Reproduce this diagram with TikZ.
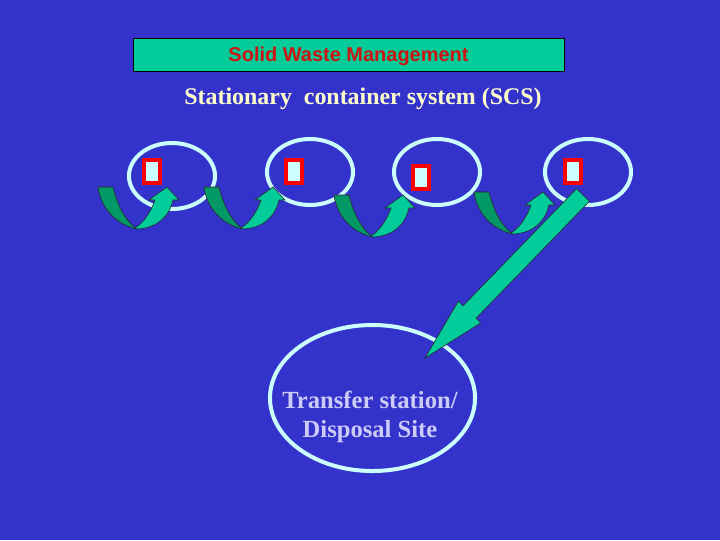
\documentclass[tikz,border=0pt]{standalone}
\usepackage{fontspec}
\setmainfont{Liberation Serif}
\newfontfamily\arialfont{Liberation Sans}
\usepackage{tikz}
\usetikzlibrary{calc,positioning,shapes.geometric}
\definecolor{slideblue}{RGB}{51,51,204}
\definecolor{paleaqua}{RGB}{204,255,255}
\definecolor{seagreen}{RGB}{0,204,153}
\definecolor{deepgreen}{RGB}{0,153,102}
\definecolor{titlered}{RGB}{204,20,20}
\definecolor{paleyellow}{RGB}{255,255,204}
\definecolor{lavender}{RGB}{204,204,250}

\begin{document}
\begin{tikzpicture}[x=0.025cm,y=-0.025cm,
    site/.style={ellipse,draw=paleaqua,line width=0.1cm,minimum width=2.15cm,minimum height=1.65cm,inner sep=0pt},
    bin/.style={rectangle,draw=red,fill=paleaqua,line width=0.1cm,minimum width=0.4cm,minimum height=0.575cm,inner sep=0pt},
    titlebox/.style={rectangle,draw=black,fill=seagreen,line width=0.5pt,minimum width=10.775cm,minimum height=0.825cm,inner sep=0pt,
        text height=10pt,text depth=0pt,text=titlered,font=\arialfont\bfseries\fontsize{14.2}{16}\selectfont},
    dest/.style={ellipse,draw=paleaqua,line width=0.1cm,minimum width=5.125cm,minimum height=3.65cm,inner sep=0pt},
    arrowpart/.style={draw=black!85,line width=0.4pt},
    pics/uturn/.style={code={
        \filldraw[arrowpart,fill=deepgreen] (-39,-42) -- (-24,-42) .. controls (-20,-25) and (-12,-8) .. (0,0)
            .. controls (-20,-4) and (-36,-20) .. (-39,-42) -- cycle;
        \filldraw[arrowpart,fill=seagreen] (0,0) .. controls (20,-1) and (32,-12) .. (36,-29) -- (42,-29) -- (30,-42)
            -- (12,-29) -- (18,-29) .. controls (15,-20) and (8,-7) .. (-2,-1) -- cycle;
    }}]
    \useasboundingbox (0,0) rectangle (720,540);
    \fill[slideblue] (0,0) rectangle (720,540);
    % headings
    \node[titlebox] (title) at (348.5,54.5) {Solid Waste Management};
    \node[anchor=base,text=paleyellow,font=\bfseries\fontsize{17}{20}\selectfont] (sub) at (363,104.5)
        {Stationary\ \ container system (SCS)};
    % pick-up points with their containers
    \node[site] (e1) at (172,176) {};
    \node[site] (e2) at (310,172) {};
    \node[site] (e3) at (437,172) {};
    \node[site] (e4) at (588,172) {};
    \node[bin] (c1) at (152,171.5) {};
    \node[bin] (c2) at (293.5,171.5) {};
    \node[bin] (c3) at (421,177.5) {};
    \node[bin] (c4) at (572.5,171.5) {};
    % trips between the points
    \pic at (137,229) {uturn};
    \pic at (243,229) {uturn};
    \pic at (373,237) {uturn};
    \pic at (513,234) {uturn};
    % final site
    \node[dest] (site) at (372.5,398) {};
    \node[align=center,text=lavender,font=\bfseries\fontsize{17.5}{20.5}\selectfont] (sitelabel) at (370,417)
        {Transfer station/\\Disposal Site};
    % Define the big arrow from the last point to the site
    \coordinate (from) at (583,195);
    \coordinate (to) at (425,358);
    \coordinate (neck) at ($(to)!1.6cm!(from)$);
    \filldraw[arrowpart,fill=seagreen] ($(from)!0.225cm!90:(to)$) -- ($(neck)!0.225cm!90:(to)$)
        -- ($(neck)!0.39cm!90:(to)$) -- (to) -- ($(neck)!0.39cm!-90:(to)$)
        -- ($(neck)!0.225cm!-90:(to)$) -- ($(from)!0.225cm!-90:(to)$) -- cycle;
\end{tikzpicture}
\end{document}
